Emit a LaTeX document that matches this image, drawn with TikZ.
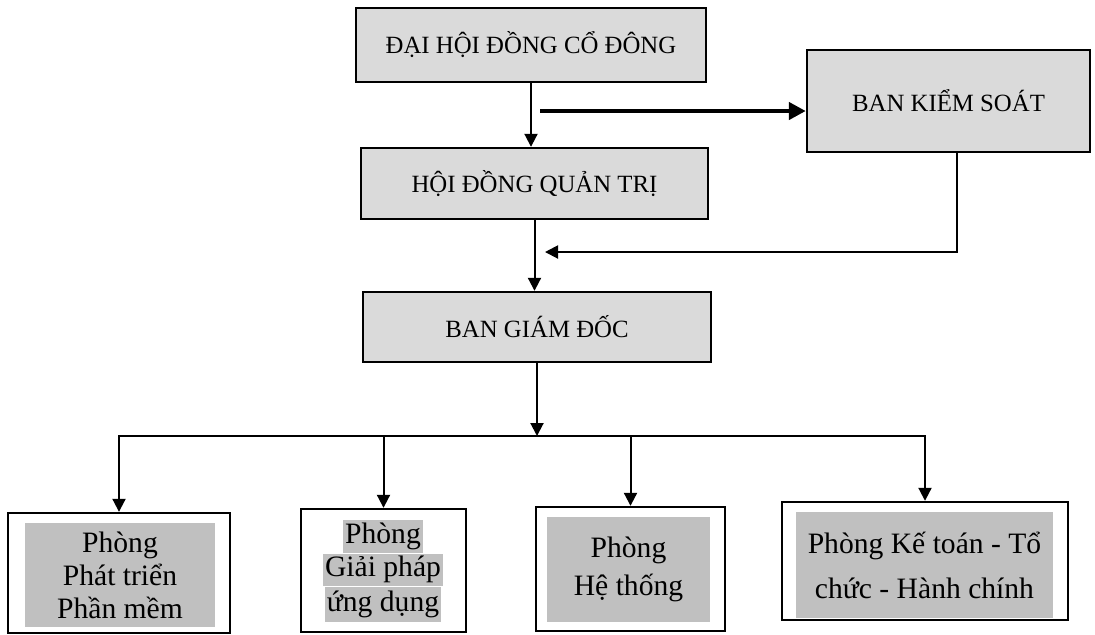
\documentclass[tikz,border=0pt]{standalone}
\usepackage{fontspec}
\setmainfont{Liberation Serif}
\usetikzlibrary{positioning,arrows.meta}
\definecolor{boxgray}{RGB}{218,218,218}
\definecolor{markgray}{RGB}{192,192,192}

\begin{document}
\begin{tikzpicture}[x=0.5pt,y=-0.5pt]
   \tikzstyle{every node}=[inner sep=0pt]
   \tikzstyle{board}=[draw, line width=1.2pt, fill=boxgray, font=\fontsize{12.4}{15}\selectfont]
   \tikzstyle{dept}=[draw, line width=1.2pt, fill=white]
   \tikzstyle{hilite}=[fill=markgray, align=center, font=\fontsize{14.8}{16.5}\selectfont]
   \tikzstyle{link}=[line width=1pt, -{Triangle[length=6.5pt,width=6.5pt]}]

\useasboundingbox (0,0) rectangle (1095,634);

% upper levels
\node[board, minimum width=175pt, minimum height=37pt] (dhcd) at (531,45) {ĐẠI HỘI ĐỒNG CỔ ĐÔNG};
\node[board, minimum width=141.5pt, minimum height=51pt] (bks) at (948.5,101) {BAN KIỂM SOÁT};
\node[board, minimum width=173.5pt, minimum height=35.5pt] (hdqt) at (534.5,183.5) {HỘI ĐỒNG QUẢN TRỊ};
\node[board, minimum width=174pt, minimum height=35pt] (bgd) at (537,327) {BAN GIÁM ĐỐC};

% departments
\node[dept, minimum width=111pt, minimum height=60pt] (p1) at (119,573) {};
\node[dept, minimum width=82.5pt, minimum height=61.5pt] (p2) at (383.5,570.5) {};
\node[dept, minimum width=94.5pt, minimum height=62pt] (p3) at (630.5,569) {};
\node[dept, minimum width=143pt, minimum height=59pt] (p4) at (925,561) {};

\node[hilite, minimum width=95pt, minimum height=52pt] (t1) at (120,575) {Phòng\\Phát triển\\Phần mềm};
\node[hilite, inner xsep=1pt, minimum height=16.5pt] (t2a) at (383,536.5) {Phòng};
\node[hilite, inner xsep=1pt, minimum height=16pt, below=0pt of t2a] (t2b) {Giải pháp};
\node[hilite, inner xsep=1pt, minimum height=17.5pt, below=0pt of t2b] (t2c) {ứng dụng};
\node[hilite, minimum width=81.5pt, minimum height=52.5pt, font=\fontsize{14.8}{19}\selectfont] (t3) at (628.5,569.5) {Phòng\\Hệ thống};
\node[hilite, minimum width=128.5pt, minimum height=53pt, font=\fontsize{14.8}{22.5}\selectfont] (t4) at (924.5,565) {Phòng Kế toán - Tổ\\chức - Hành chính};

% connectors
\coordinate (tk) at (540,111);
\coordinate (fbx) at (957,252);
\coordinate (fbin) at (545,252);
\coordinate (bus) at (537,436);

\draw[link] (dhcd.south) -- (dhcd.south |- hdqt.north);
\draw[line width=2.2pt, -{Triangle[length=8.5pt,width=8.5pt]}] (tk) -- (tk -| bks.west);
\draw[link] (bks.south -| fbx) -- (fbx) -- (fbin);
\draw[link] (hdqt.south) -- (hdqt.south |- bgd.north);
\draw[link] (bgd.south) -- (bus);
\draw[link] (bus) -| (p1.north);
\draw[link] (bus) -| (p4.north);
\foreach \p in {p2,p3}
   \draw[link] (\p.north |- bus) -- (\p.north);

\end{tikzpicture}
\end{document}
